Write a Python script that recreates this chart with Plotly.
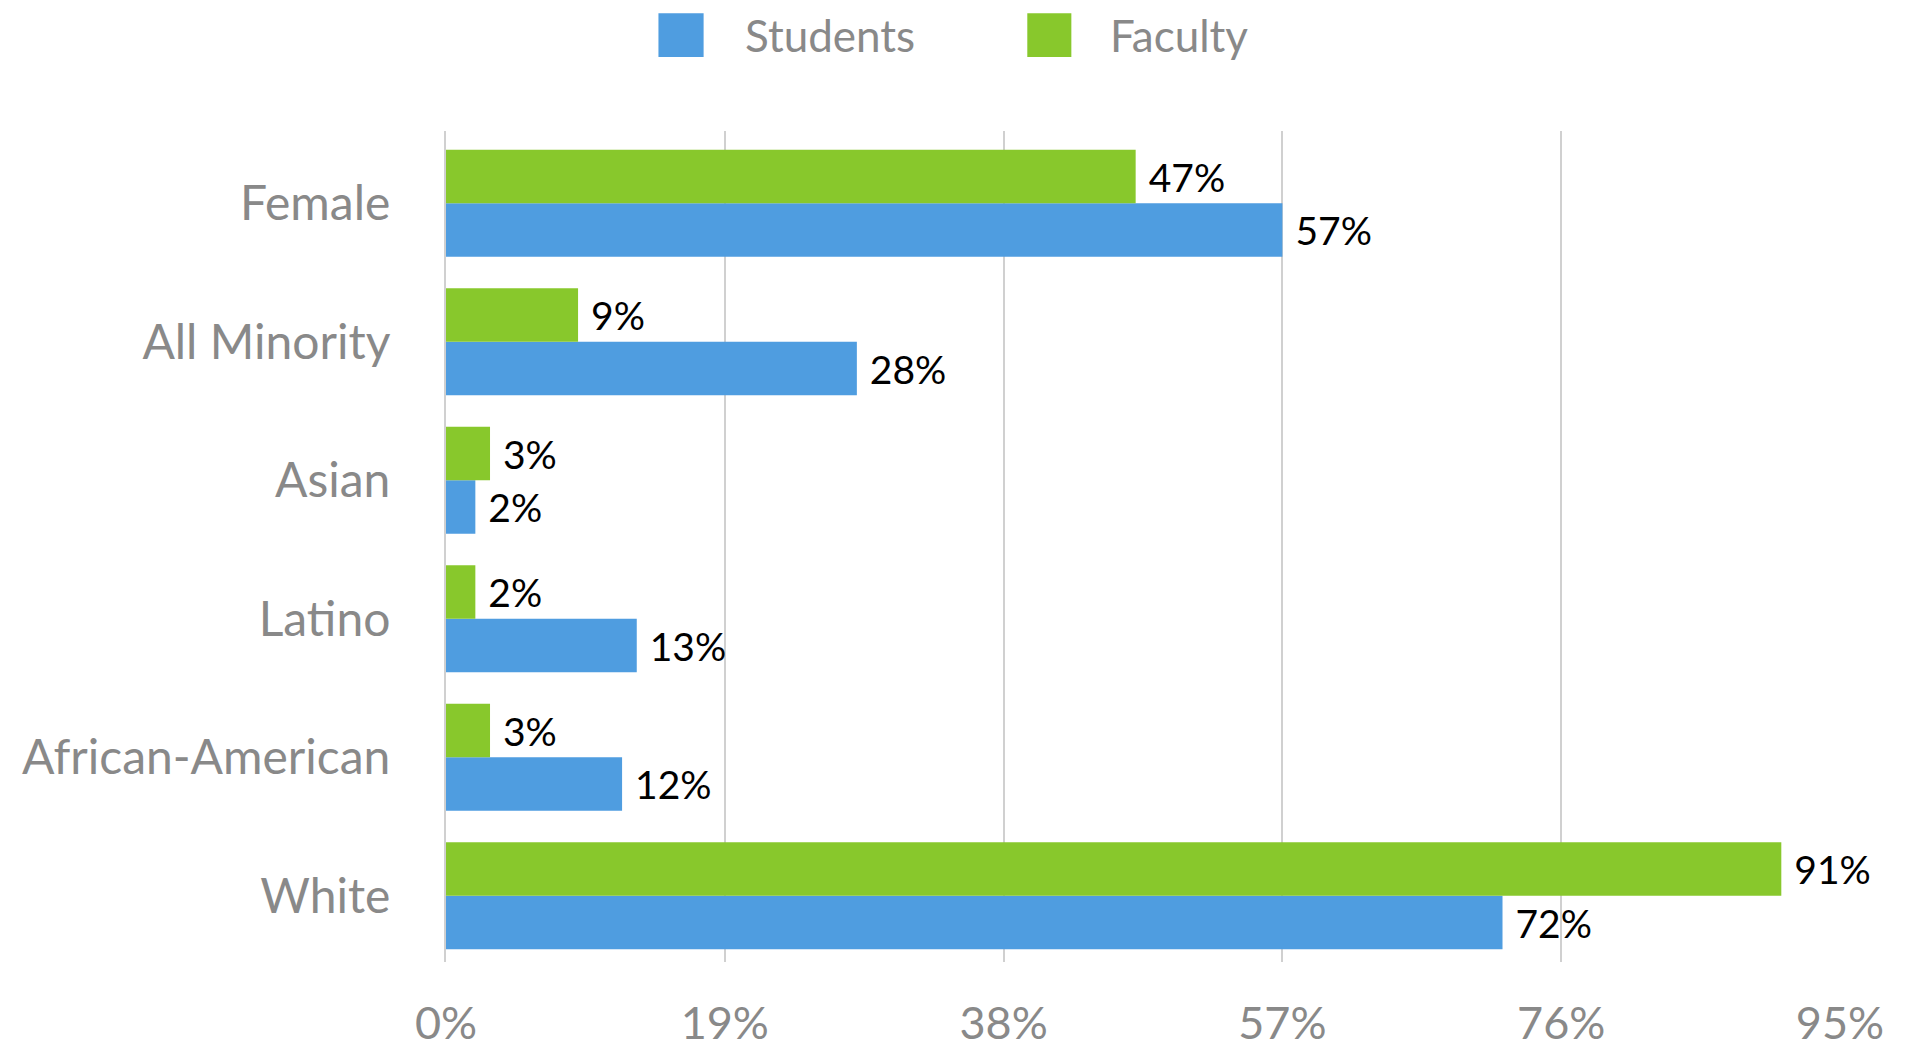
import plotly.graph_objects as go

categories = ["White", "African-American", "Latino", "Asian", "All Minority", "Female"]
students = [72, 12, 13, 2, 28, 57]
faculty = [91, 3, 2, 3, 9, 47]
x_ticks = [0, 19, 38, 57, 76, 95]

blue = "#4f9de0"
green = "#88c82c"
grey_text = "#898989"
font_name = "Lato, 'Open Sans', sans-serif"

fig = go.Figure()

fig.add_trace(go.Bar(
    y=categories, x=students, name="Students", orientation="h",
    marker=dict(color=blue, line=dict(width=0)),
    text=[f" {v}%" for v in students], textposition="outside",
    textfont=dict(color="black", size=39, family=font_name),
    cliponaxis=False,
))
fig.add_trace(go.Bar(
    y=categories, x=faculty, name="Faculty", orientation="h",
    marker=dict(color=green, line=dict(width=0)),
    text=[f" {v}%" for v in faculty], textposition="outside",
    textfont=dict(color="black", size=39, family=font_name),
    cliponaxis=False,
))

# legend drawn by hand so the swatches can be big
fig.add_shape(type="rect", xref="paper", yref="paper",
              x0=0.1524, x1=0.1848, y0=1.089, y1=1.1418,
              fillcolor=blue, line=dict(width=0))
fig.add_shape(type="rect", xref="paper", yref="paper",
              x0=0.417, x1=0.4486, y0=1.089, y1=1.1418,
              fillcolor=green, line=dict(width=0))
fig.add_annotation(text="Students", xref="paper", yref="paper",
                   x=0.2128, y=1.115, xanchor="left", yanchor="middle",
                   showarrow=False, font=dict(size=44, color=grey_text, family=font_name))
fig.add_annotation(text="Faculty", xref="paper", yref="paper",
                   x=0.4752, y=1.115, xanchor="left", yanchor="middle",
                   showarrow=False, font=dict(size=44, color=grey_text, family=font_name))

fig.update_layout(
    width=1908, height=1048,
    barmode="group", bargap=0.227, bargroupgap=0,
    showlegend=False,
    plot_bgcolor="white", paper_bgcolor="white",
    margin=dict(l=446, r=68, t=131, b=86),
    font=dict(family=font_name, color=grey_text),
)
fig.update_xaxes(
    range=[0, 95], tickvals=x_ticks, ticktext=[f"{v}%" for v in x_ticks],
    showgrid=True, gridcolor="#d0d0d0", gridwidth=2,
    zeroline=False, showline=False, automargin=False,
    ticks="outside", ticklen=22, tickcolor="rgba(0,0,0,0)",
    tickfont=dict(size=45, color=grey_text, family=font_name),
)
fig.update_yaxes(
    range=[-0.478, 5.522],
    showgrid=False, zeroline=False, automargin=False,
    showline=True, linecolor="#d0d0d0", linewidth=2,
    ticks="outside", ticklen=44, tickcolor="rgba(0,0,0,0)",
    tickfont=dict(size=48, color=grey_text, family=font_name),
)

# drop the default body margin so the figure fills the window exactly
fig.write_html("out.html", config={"displayModeBar": False},
               post_script="document.body.style.margin='0';document.body.style.overflow='hidden';")
